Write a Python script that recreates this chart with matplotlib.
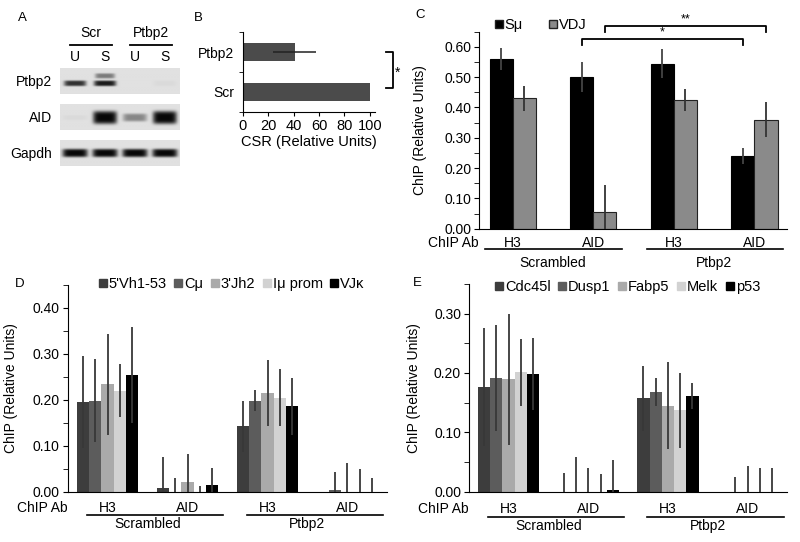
import numpy as np
import matplotlib
matplotlib.use("Agg")
import matplotlib.pyplot as plt
import matplotlib.transforms as mtransforms
from matplotlib.lines import Line2D

plt.rcParams['font.family'] = ['Liberation Sans', 'DejaVu Sans']
plt.rcParams['font.size'] = 10

# ---------------- data ----------------
# Panel A (western blot band intensities, lanes U S U S)
blot_conditions = ['Scr', 'Ptbp2']
blot_lanes = ['U', 'S', 'U', 'S']
blot_rows = ['Ptbp2', 'AID', 'Gapdh']
ptbp2_band = [0.78, 0.88, 0.0, 0.03]
ptbp2_upper_band = [0.0, 0.45, 0.0, 0.0]
aid_band = [0.03, 1.0, 0.4, 1.0]
gapdh_band = [1.0, 1.0, 1.0, 1.0]

# Panel B
b_categories = ['Scr', 'Ptbp2']
b_csr = [100, 41]
b_csr_err = [0, 17]

# Panel C
c_groups = ['H3', 'AID', 'H3', 'AID']
c_conditions = ['Scrambled', 'Ptbp2']
c_series = ['Sμ', 'VDJ']
c_smu = [0.56, 0.50, 0.545, 0.24]
c_smu_err = [0.037, 0.05, 0.048, 0.025]
c_vdj = [0.43, 0.054, 0.425, 0.36]
c_vdj_err = [0.04, 0.09, 0.035, 0.057]

# Panel D
d_series = ["5'Vh1-53", 'Cμ', "3'Jh2", 'Iμ prom', 'VJκ']
d_vh = [0.195, 0.008, 0.142, 0.0]
d_vh_err = [0.10, 0.067, 0.055, 0.0]
d_cmu = [0.198, 0.0, 0.198, 0.0045]
d_cmu_err = [0.09, 0.030, 0.023, 0.039]
d_jh2 = [0.234, 0.022, 0.215, 0.0]
d_jh2_err = [0.11, 0.059, 0.072, 0.063]
d_imu = [0.220, 0.0, 0.205, 0.0]
d_imu_err = [0.057, 0.012, 0.063, 0.050]
d_vjk = [0.254, 0.015, 0.186, 0.0]
d_vjk_err = [0.105, 0.037, 0.062, 0.030]

# Panel E
e_series = ['Cdc45l', 'Dusp1', 'Fabp5', 'Melk', 'p53']
e_cdc = [0.176, 0.0, 0.157, 0.0]
e_cdc_err = [0.099, 0.031, 0.055, 0.0]
e_dusp = [0.191, 0.0, 0.168, 0.0]
e_dusp_err = [0.089, 0.059, 0.023, 0.024]
e_fabp = [0.189, 0.0, 0.145, 0.0]
e_fabp_err = [0.11, 0.040, 0.073, 0.044]
e_melk = [0.201, 0.0, 0.137, 0.0]
e_melk_err = [0.056, 0.029, 0.063, 0.040]
e_p53 = [0.198, 0.003, 0.161, 0.0]
e_p53_err = [0.06, 0.050, 0.022, 0.040]

multi_colors = ['#3d3d3d', '#5c5c5c', '#aaaaaa', '#d2d2d2', '#000000']

# ---------------- figure ----------------
W, H = 800, 542
fig = plt.figure(figsize=(W / 100, H / 100), dpi=100)


def px_axes(x0, y0, x1, y1):
    return fig.add_axes([x0 / W, 1 - y1 / H, (x1 - x0) / W, (y1 - y0) / H])


def panel_label(x, y, s):
    fig.text(x / W, 1 - y / H, s, ha='center', va='center', fontsize=9.5)


# ---------------- Panel A ----------------
axA = px_axes(60, 68, 180, 167)
axA.set_xlim(0, 4)
axA.set_ylim(2.75, 0)
axA.axis('off')

xs = np.linspace(0, 4, 320)
ys = np.linspace(0, 1, 80)
X, Y = np.meshgrid(xs, ys)


def blot_row(row_idx, bands):
    keep = np.ones_like(X)
    for intens, yc, half_h, half_w in bands:
        for j, I in enumerate(intens):
            if I <= 0:
                continue
            hh = half_h(I) if callable(half_h) else half_h
            prof = np.exp(-((X - (j + 0.5)) / half_w) ** 6) * np.exp(-((Y - yc) / hh) ** 4)
            keep *= (1 - min(I, 0.97) * prof)
    dark = 1 - (1 - 0.12) * keep
    axA.imshow(dark, cmap='gray_r', vmin=0, vmax=1, aspect='auto',
               extent=(0, 4, row_idx + 0.72, row_idx), interpolation='bilinear')


blot_row(0, [(ptbp2_band, 0.59, 0.11, 0.37), (ptbp2_upper_band, 0.30, 0.10, 0.33)])
blot_row(1, [(aid_band, 0.52, lambda I: 0.09 + 0.16 * I, 0.40)])
blot_row(2, [(gapdh_band, 0.50, 0.16, 0.42)])
axA.set_ylim(2.75, 0)

for j, lane in enumerate(blot_lanes):
    axA.text(j + 0.5, -0.31, lane, ha='center', va='center', fontsize=10, clip_on=False)
for k, cond in enumerate(blot_conditions):
    axA.text(2 * k + 1.03, -0.97, cond, ha='center', va='center', fontsize=10, clip_on=False)
    axA.plot([2 * k + 0.33, 2 * k + 1.73], [-0.64, -0.64], color='black', lw=1.3, clip_on=False)
for i, r in enumerate(blot_rows):
    axA.text(-0.27, i + 0.4, r, ha='right', va='center', fontsize=10, clip_on=False)
panel_label(22, 18, 'A')

# ---------------- Panel B ----------------
axB = px_axes(242.7, 32.3, 375, 111.7)
yb = np.arange(len(b_categories))
axB.barh(yb, b_csr, height=0.44, color='#4b4b4b', zorder=2)
axB.errorbar(b_csr, yb, xerr=b_csr_err, fmt='none', ecolor='#222222', elinewidth=1.1, capsize=0, zorder=3)
axB.set_xlim(0, 104)
axB.set_ylim(-0.5, 1.5)
axB.set_yticks(yb)
axB.set_yticklabels(b_categories, fontsize=10)
axB.tick_params(axis='y', length=0, pad=6)
axB.set_yticks([-0.5, 0.5, 1.5], minor=True)
axB.tick_params(axis='y', which='minor', length=3, direction='out')
axB.set_xticks([0, 20, 40, 60, 80, 100])
axB.tick_params(axis='x', length=3, direction='out', labelsize=10.5, pad=2)
axB.set_xlabel('CSR (Relative Units)', fontsize=10.5, labelpad=2)
for s in ['top', 'right']:
    axB.spines[s].set_visible(False)
# significance bracket
axB.plot([113, 118, 118, 113], [1, 1, 0.1, 0.1], color='black', lw=1.3, clip_on=False)
axB.text(122, 0.48, '*', ha='center', va='center', fontsize=10, clip_on=False)
panel_label(198, 18, 'B')


# ---------------- helpers for C, D, E ----------------
def under_axis(ax, centers, labels, conditions, ax_h_px, off_lab, off_line, off_cond, line_l, line_r):
    tr = mtransforms.blended_transform_factory(ax.transData, ax.transAxes)
    for c, lab in zip(centers, labels):
        ax.text(c, -off_lab / ax_h_px, lab, transform=tr, ha='center', va='baseline', fontsize=10)
    for k, cond in enumerate(conditions):
        a, b = centers[2 * k], centers[2 * k + 1]
        ax.plot([a + line_l, b + line_r], [-off_line / ax_h_px] * 2, transform=tr,
                color='black', lw=1.2, clip_on=False)
        ax.text((a + b) / 2, -off_cond / ax_h_px, cond, transform=tr, ha='center', va='baseline', fontsize=10)
    ax.text(-0.0, -off_lab / ax_h_px, 'ChIP Ab', transform=ax.transAxes, ha='right', va='baseline', fontsize=10)


def style_axes(ax, ymax, label_x):
    for s in ['top', 'right']:
        ax.spines[s].set_visible(False)
    ax.set_xticks([])
    ax.set_yticks(np.arange(0, ymax + 1e-9, 0.1))
    ax.set_yticks(np.arange(0.05, ymax + 0.051, 0.05), minor=True)
    ax.yaxis.set_major_formatter(matplotlib.ticker.FormatStrFormatter('%.2f'))
    ax.tick_params(axis='y', which='both', direction='out', length=3.5, labelsize=10, pad=2)
    ax.set_ylabel('ChIP (Relative Units)', fontsize=10)
    ax.yaxis.set_label_coords(label_x, 0.5)


# ---------------- Panel C ----------------
axC = px_axes(479, 31.7, 786.7, 228.7)
xc = np.arange(len(c_groups))
wc = 0.286
axC.bar(xc - wc / 2, c_smu, width=wc, color='black', edgecolor='black', lw=0.8, zorder=2)
axC.bar(xc + wc / 2, c_vdj, width=wc, color='#8a8a8a', edgecolor='#222222', lw=0.8, zorder=2)
axC.errorbar(xc - wc / 2, c_smu, yerr=c_smu_err, fmt='none', ecolor='#444444', elinewidth=1.3, capsize=0, zorder=3)
axC.errorbar(xc + wc / 2, c_vdj, yerr=c_vdj_err, fmt='none', ecolor='#333333', elinewidth=1.3, capsize=0, zorder=3)
axC.set_xlim(-0.42, 3.4)
axC.set_ylim(0, 0.65)
style_axes(axC, 0.6, -0.17)
axC.set_yticks(np.arange(0.05, 0.651, 0.05), minor=True)
under_axis(axC, xc, c_groups, c_conditions, 197, 18.3, 20.0, 38.0, -0.34, 0.36)
# legend
hC = [Line2D([], [], marker='s', ls='none', color=c, markeredgecolor='#222', markersize=5.5)
      for c in ['black', '#8a8a8a']]
axC.legend(hC, c_series, ncol=2, loc='center', bbox_to_anchor=(0.2, 1.034), frameon=False,
           handlelength=0.5, handletextpad=0.15, columnspacing=1.8, fontsize=10.5, borderpad=0)
# significance brackets
for (x0, x1, yb_, txt) in [(xc[1] - wc / 2, xc[3] - wc / 2, 0.626, '*'),
                            (xc[1] + wc / 2, xc[3] + wc / 2, 0.669, '**')]:
    axC.plot([x0, x0, x1, x1], [yb_ - 0.019, yb_, yb_, yb_ - 0.019], color='black', lw=1.3, clip_on=False)
    axC.text((x0 + x1) / 2, yb_ + 0.002, txt, ha='center', va='bottom', fontsize=9, clip_on=False)
panel_label(420, 15, 'C')


# ---------------- Panel D & E ----------------
def multi_panel(ax, series, vals, errs, ymax_axis, ymax_tick, label_x, ax_h_px, offs, lines, leg_anchor):
    x = np.arange(4)
    n = len(series)
    w = 0.154
    for i in range(n):
        pos = x + (i - (n - 1) / 2) * w
        ax.bar(pos, vals[i], width=w, color=multi_colors[i], zorder=2, label=series[i])
    for i in range(n):
        pos = x + (i - (n - 1) / 2) * w
        ax.errorbar(pos, vals[i], yerr=errs[i], fmt='none', ecolor='#383838', elinewidth=1.3,
                    capsize=0, zorder=3)
    ax.set_xlim(-0.5, 3.49)
    ax.set_ylim(0, ymax_axis)
    style_axes(ax, ymax_tick, label_x)
    under_axis(ax, x, c_groups, c_conditions, ax_h_px, offs[0], offs[1], offs[2], lines[0], lines[1])
    handles = [Line2D([], [], marker='s', ls='none', color=c, markersize=5.5) for c in multi_colors]
    ax.legend(handles, series, ncol=5, loc='center', bbox_to_anchor=leg_anchor, frameon=False,
              handlelength=0.5, handletextpad=0.15, columnspacing=0.55, fontsize=10.5, borderpad=0)


axD = px_axes(67.5, 285, 386.7, 491.7)
multi_panel(axD, d_series,
            [d_vh, d_cmu, d_jh2, d_imu, d_vjk],
            [d_vh_err, d_cmu_err, d_jh2_err, d_imu_err, d_vjk_err],
            0.40, 0.40, -0.154, 206.7, (20.0, 23.3, 36.6), (-0.26, 0.45), (0.515, 1.005))
panel_label(20, 284, 'D')

axE = px_axes(468.7, 283.8, 786.7, 491.7)
multi_panel(axE, e_series,
            [e_cdc, e_dusp, e_fabp, e_melk, e_p53],
            [e_cdc_err, e_dusp_err, e_fabp_err, e_melk_err, e_p53_err],
            0.35, 0.30, -0.151, 207.9, (21.0, 25.0, 38.3), (-0.26, 0.45), (0.50, 0.985))
panel_label(417, 283, 'E')

fig.savefig('out.png', dpi=100)
